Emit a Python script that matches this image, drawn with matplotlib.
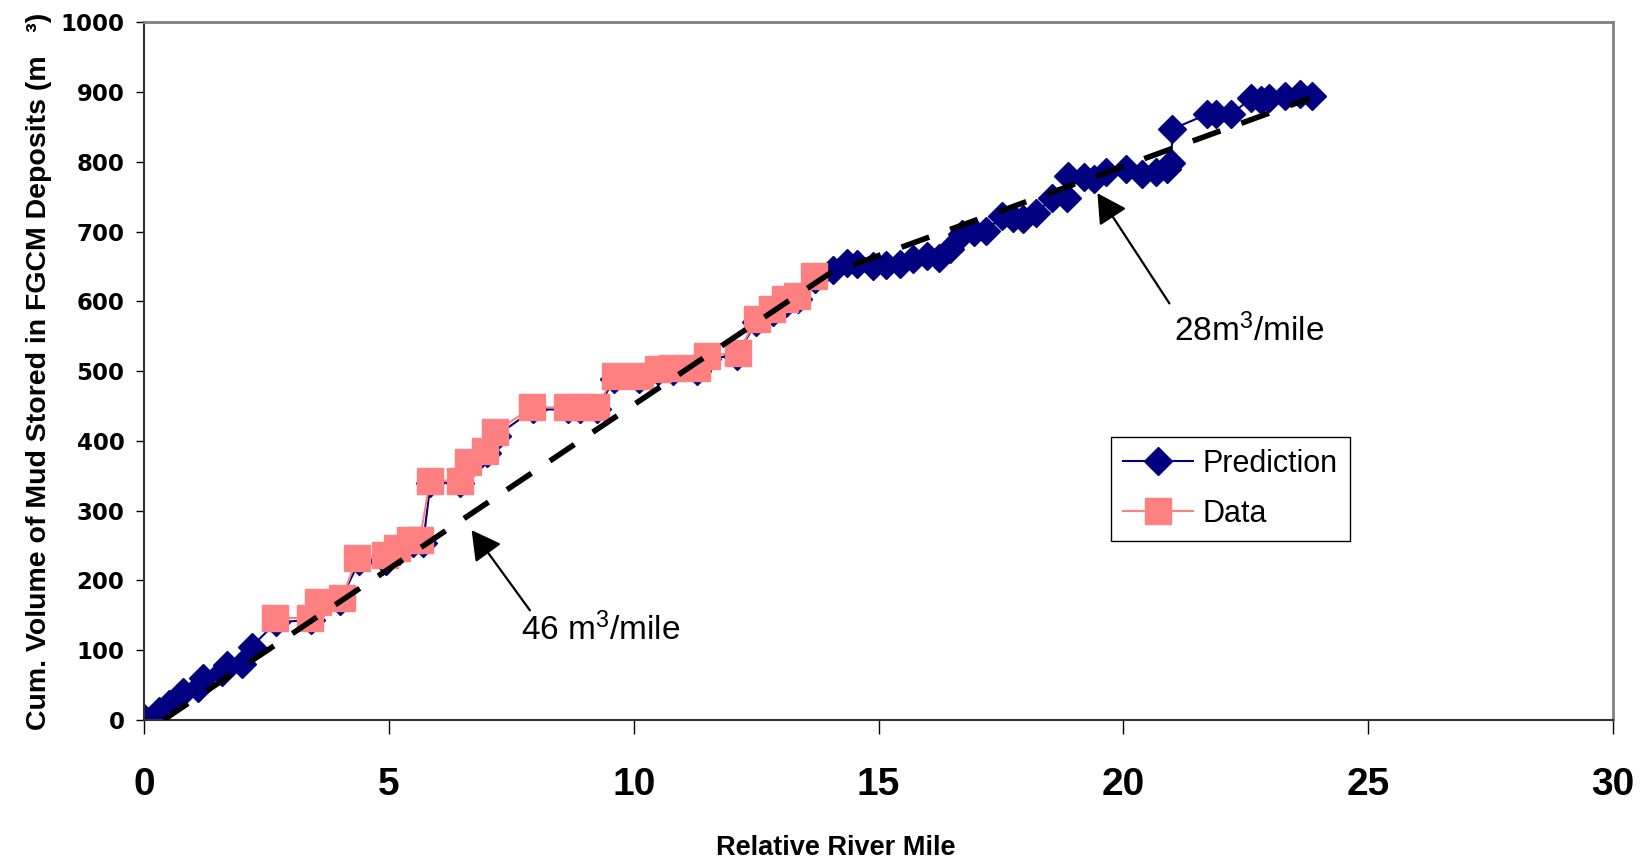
import matplotlib
matplotlib.use("Agg")
import matplotlib.pyplot as plt

plt.rcParams['mathtext.fontset'] = 'custom'
plt.rcParams['mathtext.rm'] = 'Liberation Sans'
plt.rcParams['mathtext.it'] = 'Liberation Sans:italic'
plt.rcParams['mathtext.bf'] = 'Liberation Sans:bold'

# prediction (navy diamonds)
pred_x = [0, 0.3, 0.5, 0.8, 1.1, 1.2, 1.6, 1.7, 2.0, 2.2,
          2.7, 3.4, 3.6, 4.0, 4.4, 4.95, 5.2, 5.5, 5.7, 5.85, 6.45, 6.65, 7.0, 7.2,
          7.95, 8.65, 8.9, 9.25, 9.6, 10.1, 10.5, 10.8, 11.3, 11.5, 12.1, 12.5,
          12.85, 13.1, 13.35, 13.7,
          14.06, 14.35, 14.55, 14.88, 15.15, 15.43, 15.7, 15.98, 16.24, 16.45,
          16.71, 16.95, 17.2, 17.53, 17.75, 17.94, 18.22, 18.55, 18.84, 18.86,
          19.2, 19.4, 19.65, 20.06, 20.39, 20.67, 20.9, 20.98, 21.0, 21.7, 21.9,
          22.2, 22.6, 22.8, 22.98, 23.3, 23.6, 23.86]
pred_y = [2, 12, 22, 40, 45, 60, 68, 78, 80, 105,
          140, 143, 165, 170, 228, 228, 242, 253, 253, 340, 340, 365, 382, 407,
          445, 445, 445, 445, 488, 488, 500, 500, 500, 518, 522, 570,
          585, 598, 603, 632,
          645, 655, 653, 651, 652, 653, 660, 665, 662, 675,
          697, 700, 701, 723, 720, 718, 727, 748, 748, 780,
          778, 776, 785, 790, 783, 785, 790, 798, 847, 868, 868,
          868, 891, 888, 891, 895, 897, 894]

# measured data (salmon squares)
data_x = [2.67, 3.39, 3.55, 4.04, 4.35, 4.92, 5.16, 5.43, 5.63, 5.84, 6.45, 6.61,
          6.96, 7.16, 7.92, 8.63, 8.9, 9.24, 9.61, 10.12, 10.49, 10.78, 11.29,
          11.49, 12.12, 12.51, 12.82, 13.08, 13.33, 13.69]
data_y = [146, 146, 169, 174, 232, 236, 246, 258, 258, 343, 343, 369,
          386, 412, 448, 448, 448, 448, 493, 493, 503, 505, 505,
          522, 526, 574, 589, 603, 607, 636]

# trend (two slopes)
trend_x = [0.4, 14.0, 23.8]
trend_y = [0, 640, 891]

fig = plt.figure(figsize=(16.46, 8.6), dpi=100)
ax = fig.add_axes([0.0875, 0.163, 0.8925, 0.811])

ax.plot(pred_x, pred_y, color='#000080', lw=1.5, marker='D', ms=14,
        mec='#000080', mfc='#000080', label='Prediction', zorder=2)
ax.plot(data_x, data_y, color='#FF8080', lw=1.5, marker='s', ms=18.5,
        mec='#FF8080', mfc='#FF8080', label='Data', zorder=3)
ax.plot(trend_x, trend_y, color='black', lw=4, dashes=(5.3, 4.0),
        solid_capstyle='butt', dash_capstyle='butt', zorder=4)

arrow = dict(arrowstyle='-|>,head_length=0.4,head_width=0.22', mutation_scale=45,
             lw=1.6, color='black', shrinkA=0, shrinkB=0)
ax.annotate('', xy=(6.69, 272), xytext=(7.88, 157), arrowprops=arrow, zorder=5)
ax.annotate('', xy=(19.47, 755), xytext=(20.94, 597), arrowprops=arrow, zorder=5)
ax.text(9.32, 129, '46 m$^{3}$/mile', fontsize=24, family='Liberation Sans',
        ha='center', va='center')
ax.text(22.56, 558, '28m$^{3}$/mile', fontsize=24, family='Liberation Sans',
        ha='center', va='center')

ax.set_xlim(0, 30)
ax.set_ylim(0, 1000)
ax.set_xticks(range(0, 31, 5))
ax.set_yticks(range(0, 1001, 100))
for lab in ax.get_xticklabels():
    lab.set_fontfamily('Liberation Sans')
    lab.set_fontweight('bold')
    lab.set_fontsize(28)
for lab in ax.get_yticklabels():
    lab.set_fontfamily('DejaVu Sans')
    lab.set_fontweight('bold')
    lab.set_fontsize(16.5)
ax.tick_params(axis='x', direction='out', length=10, width=1, pad=24)
ax.tick_params(axis='y', direction='out', length=6, width=1, pad=8)

for s in ['top', 'right']:
    ax.spines[s].set_color('#808080')
    ax.spines[s].set_linewidth(2)
for s in ['left', 'bottom']:
    ax.spines[s].set_color('#333333')
    ax.spines[s].set_linewidth(1.5)

ax.set_xlabel('Relative River Mile', fontsize=19.5, fontweight='bold',
              family='Liberation Sans')
ax.xaxis.set_label_coords(0.471, -0.165)
ax.set_ylabel('Cum. Volume of Mud Stored in FGCM Deposits (m   ³)', fontsize=20.5,
              fontweight='bold', family='Liberation Sans', labelpad=6)

leg = ax.legend(loc='lower left', bbox_to_anchor=(0.658, 0.256),
                prop={'family': 'Liberation Sans', 'size': 22},
                fancybox=False, edgecolor='black', framealpha=1,
                handlelength=2.3, borderpad=0.4, labelspacing=0.65,
                handletextpad=0.3, borderaxespad=0)
leg.get_frame().set_linewidth(1)

fig.savefig('out.png', dpi=100)
